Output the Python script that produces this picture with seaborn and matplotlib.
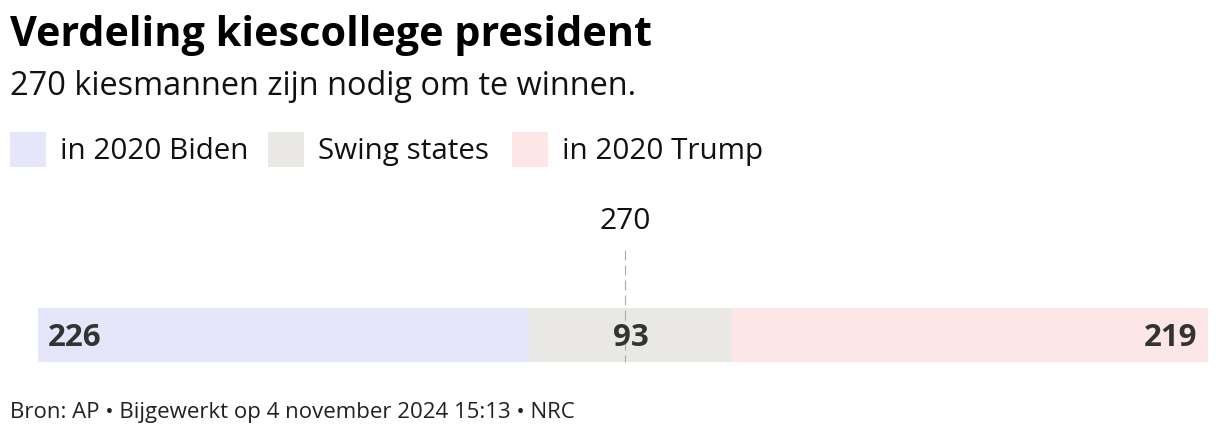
import numpy as np
import pandas as pd
import matplotlib
matplotlib.use("Agg")
import matplotlib.pyplot as plt
from matplotlib.patches import Rectangle
import seaborn as sns

# ---- data ----
categories = ["in 2020 Biden", "Swing states", "in 2020 Trump"]
values = [226, 93, 219]
colors = ["#e6e6fa", "#e9e8e4", "#fce6e6"]
threshold = 270
title = "Verdeling kiescollege president"
subtitle = "270 kiesmannen zijn nodig om te winnen."
footer = "Bron: AP • Bijgewerkt op 4 november 2024 15:13 • NRC"

sns.set_theme(style="white")
plt.rcParams["font.family"] = ["Open Sans", "DejaVu Sans"]

W, H = 1220, 442
fig = plt.figure(figsize=(W / 100, H / 100), dpi=100)

def fx(px):
    return px / W

def fy(py):
    return 1 - py / H

# title block
fig.text(fx(10), fy(46), title, fontsize=29.8, fontweight="bold", color="#000000", va="baseline", ha="left")
fig.text(fx(10), fy(95), subtitle, fontsize=23.4, color="#111111", va="baseline", ha="left")

# legend
leg_x = [10, 268, 512]
for lx, lab, col in zip(leg_x, categories, colors):
    fig.patches.append(Rectangle((fx(lx), fy(167)), 36 / W, 35 / H, transform=fig.transFigure,
                                 facecolor=col, edgecolor="none"))
    fig.text(fx(lx + 50), fy(159), lab, fontsize=21.3, color="#111111", va="baseline", ha="left")

# bar axes: pixel 240..370 vertical, 38..1208 horizontal
ax = fig.add_axes([fx(38), fy(370), 1170 / W, 130 / H])
total = sum(values)
cum = np.cumsum(values)
df = pd.DataFrame({"cat": categories, "cum": cum, "row": ["all"] * 3})
# draw widest first so stacking shows
for i in range(len(values) - 1, -1, -1):
    sns.barplot(data=df.iloc[[i]], x="cum", y="row", color=colors[i], width=0.54,
                saturation=1, ax=ax, orient="h", edgecolor="none", linewidth=0)

ax.set_xlim(0, total)
ax.set_ylim(0.35, -0.95)
ax.axis("off")

# threshold line
ax.plot([threshold, threshold], [-0.85, 0.27], color="#aaaaaa", linewidth=0.8,
        linestyle=(0, (9, 4.5)), zorder=5)
ax.text(threshold, -1.06, str(threshold), ha="center", va="baseline", fontsize=21.5, color="#111111",
        clip_on=False)

# value labels
starts = np.concatenate([[0], cum[:-1]])
lab_kw = dict(va="baseline", fontsize=22.5, fontweight="bold", color="#333333", zorder=6)
ax.text(starts[0] + 4.6, 0.107, str(values[0]), ha="left", **lab_kw)
ax.text(starts[1] + values[1] / 2, 0.107, str(values[1]), ha="center", **lab_kw)
ax.text(total - 5, 0.107, str(values[2]), ha="right", **lab_kw)

fig.text(fx(10), fy(418), footer, fontsize=16, color="#222222", va="baseline", ha="left")

fig.savefig("out.png", dpi=100)
